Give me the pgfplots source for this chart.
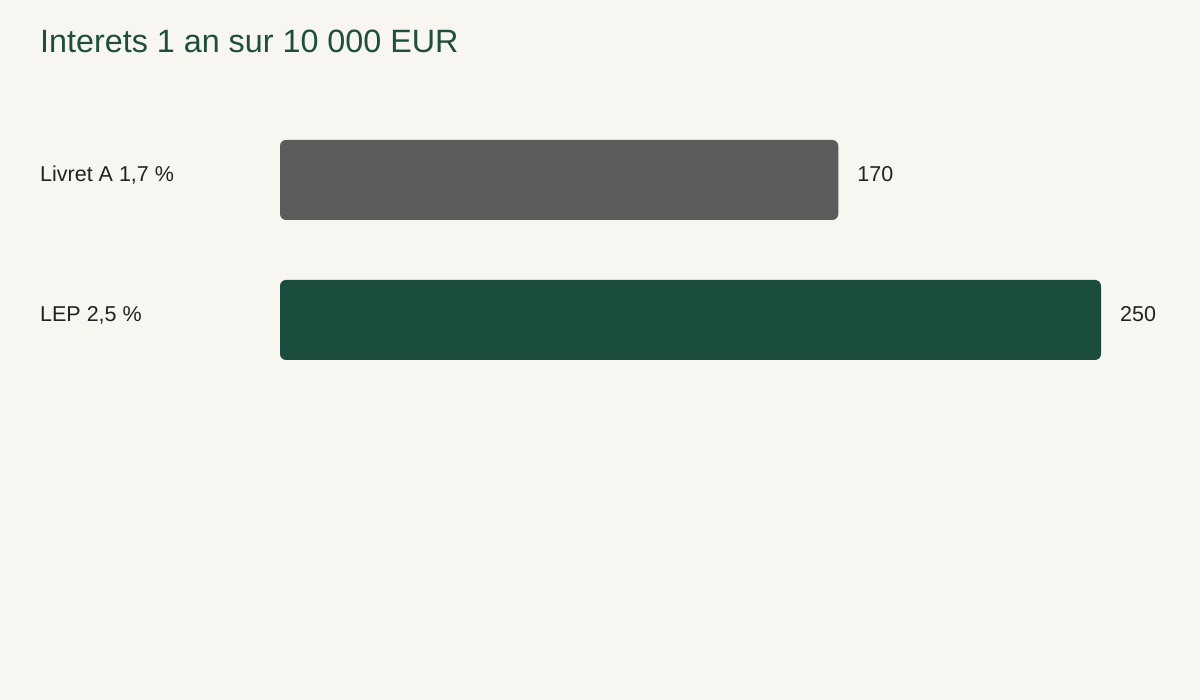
\documentclass[border=0pt]{standalone}
\usepackage{fontspec}
\setmainfont{Liberation Sans}
\usepackage{pgfplots}
\pgfplotsset{compat=1.18}
\definecolor{bgc}{HTML}{F7F6F1}
\definecolor{grayc}{HTML}{5C5C5C}
\definecolor{greenc}{HTML}{1B4D3E}
\definecolor{titlec}{HTML}{1F4E3D}
\definecolor{txtc}{HTML}{222222}
\begin{document}
\begin{tikzpicture}[x=1bp,y=1bp]
\fill[bgc] (0,0) rectangle (1200,700);
\node[anchor=base west, inner sep=0pt, text=titlec, font=\fontsize{32.3bp}{36bp}\selectfont] at (40,647.3) {Interets 1 an sur 10 000 EUR};
\begin{axis}[
  at={(280bp,310bp)}, anchor=south west,
  scale only axis, width=821bp, height=280bp,
  xmin=0, xmax=250, ymin=-0.5, ymax=1.5,
  xbar, bar width=80bp, bar shift=0pt,
  axis line style={draw=none},
  major tick length=0pt,
  xtick=\empty,
  ytick={0,1},
  yticklabels={{LEP 2,5 \%}, {Livret A 1,7 \%}},
  yticklabel style={anchor=base west, inner sep=0pt, xshift=-240bp, yshift=-2bp, text=txtc, font=\fontsize{21.5bp}{24bp}\selectfont},
  /pgf/number format/assume math mode=true,
  nodes near coords,
  nodes near coords style={anchor=base west, inner sep=0pt, xshift=19bp, yshift=-2bp, text=txtc, font=\fontsize{21.5bp}{24bp}\selectfont},
  clip=false,
]
\addplot[fill=grayc, draw=none, rounded corners=6bp] coordinates {(170,1)};
\addplot[fill=greenc, draw=none, rounded corners=6bp] coordinates {(250,0)};
\end{axis}
\end{tikzpicture}
\end{document}
